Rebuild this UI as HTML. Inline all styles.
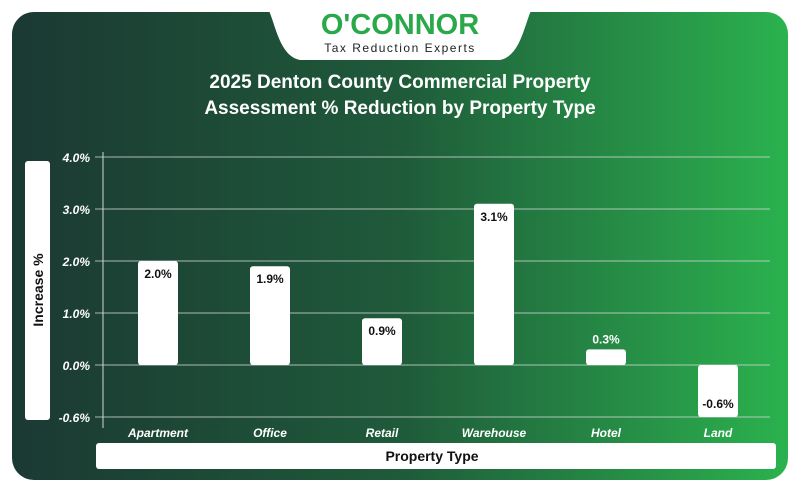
<!DOCTYPE html>
<html><head><meta charset="utf-8"><style>
body{margin:0;width:800px;height:492px;background:#fff;overflow:hidden;font-family:"Liberation Sans",sans-serif}
</style></head><body>
<svg width="800" height="492" viewBox="0 0 800 492">
<defs><linearGradient id="bg" x1="0" x2="1" y1="0" y2="0">
<stop offset="0" stop-color="#1b3933"/><stop offset="0.5" stop-color="#1f5a3a"/><stop offset="1" stop-color="#2bb24e"/></linearGradient></defs>
<rect x="12" y="12" width="776" height="468" rx="22" fill="url(#bg)"/>
<path d="M262,0 L538,0 C525,10 525,55 500,60 L300,60 C275,55 275,10 262,0 Z" fill="#fff"/>
<text x="400" y="34" text-anchor="middle" font-size="29" font-weight="bold" fill="#2aa84a">O'CONNOR</text>
<text x="400" y="52" text-anchor="middle" font-size="12" letter-spacing="1.5" fill="#222">Tax Reduction Experts</text>
<text x="400" y="88" text-anchor="middle" font-size="19" font-weight="bold" fill="#fff">2025 Denton County Commercial Property</text>
<text x="400" y="114" text-anchor="middle" font-size="19" font-weight="bold" fill="#fff">Assessment % Reduction by Property Type</text>
<rect x="25" y="161" width="25" height="259" rx="3" fill="#fff"/>
<text transform="translate(43,290) rotate(-90)" text-anchor="middle" font-size="14" font-weight="bold" fill="#111">Increase %</text>
<rect x="96" y="443" width="680" height="26" rx="3" fill="#fff"/>
<text x="432" y="461" text-anchor="middle" font-size="14" font-weight="bold" fill="#111">Property Type</text>
<g id="plot"></g>
</svg>
<script>
const categories=["Apartment","Office","Retail","Warehouse","Hotel","Land"];
const values=[2.0,1.9,0.9,3.1,0.3,-0.6];
const tickValues=[4,3,2,1,0,-0.6];
const tickLabels=["4.0%","3.0%","2.0%","1.0%","0.0%","-0.6%"];
const NS="http://www.w3.org/2000/svg";
const g=document.getElementById("plot");
const y0=365,pos=52,neg=52/0.6;
function y(v){return v>=0?y0-v*pos:y0-v*neg;}
function x(i){return 158+i*112;}
function mk(t,a){const e=document.createElementNS(NS,t);for(const k in a)e.setAttribute(k,a[k]);g.appendChild(e);return e;}
const vl=mk("line",{x1:103,x2:103,y1:152,y2:428,stroke:"#cfd8d3","stroke-width":1});


tickValues.forEach((v,i)=>{
 const l=mk("line",{x1:95,x2:770,y1:y(v),y2:y(v),stroke:"#cfd8d3","stroke-width":1,opacity:0.8});
 
 
 const t=mk("text",{x:90,y:y(v)+5,"text-anchor":"end","font-size":12,"font-weight":"bold","font-style":"italic",fill:"#fff"});
 t.textContent=tickLabels[i];
 
 
});
categories.forEach((c,i)=>{
 const v=values[i],top=Math.min(y(v),y0),h=Math.abs(y(v)-y0);
 const b=mk("rect",{x:x(i)-20,y:top,width:40,height:h,rx:3,fill:"#fff"});
 
 
 let ly=v>=0?top+17:y(v)-9;
 if(h<22&&v>=0)ly=top-6;
 const fill=(h<22&&v>=0)?"#fff":"#111";
 const t=mk("text",{x:x(i),y:ly,"text-anchor":"middle","font-size":12,"font-weight":"bold",fill:fill});
 t.textContent=v.toFixed(1)+"%";
 
 
 const xl=mk("text",{x:x(i),y:437,"text-anchor":"middle","font-size":12,"font-weight":"bold","font-style":"italic",fill:"#fff"});
 xl.textContent=c;
 
 
});
</script>
</body></html>
